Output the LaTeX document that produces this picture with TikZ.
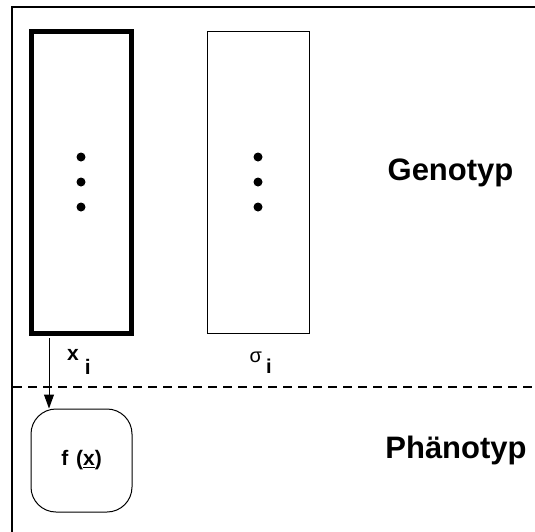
\documentclass[tikz,border=0pt]{standalone}
\usepackage{fontspec}
\setmainfont{Liberation Sans}
\usetikzlibrary{arrows.meta}
\tikzset{
  frame/.style={line width=1.5pt},
  genebox/.style={draw, line width=5pt, minimum width=100.5pt, minimum height=302pt, inner sep=0pt},
  thinbox/.style={draw, line width=1pt, minimum width=102pt, minimum height=302pt, inner sep=0pt},
  dot/.style={circle, fill, inner sep=0pt, minimum size=9pt},
  bigtext/.style={font=\fontsize{31}{33}\selectfont\bfseries, inner sep=0pt},
  labtext/.style={font=\fontsize{21}{22}\selectfont\bfseries, inner sep=0pt},
  fbox/.style={draw, line width=1pt, rounded corners=25pt, minimum width=101pt, minimum height=103pt, inner sep=0pt, font=\fontsize{21}{22}\selectfont\bfseries},
  sep/.style={dashed, line width=1.5pt, dash pattern=on 9pt off 6pt},
  flow/.style={line width=1pt, -{Triangle[length=14pt,width=10pt]}}
}
\begin{document}
\begin{tikzpicture}[x=1pt,y=-1pt]
\useasboundingbox (0,0) rectangle (535,531);
% frame (only top and left visible)
\coordinate (ftl) at (12,7);
\coordinate (ftr) at (536,7);
\coordinate (fbl) at (12,532);
\draw[frame] (ftr) -- (ftl) -- (fbl);
% genotype boxes
\node[genebox] (xbox) at (81.25,182) {};
\node[thinbox] (sbox) at (258,182) {};
\node[dot] (d1) at (81,157) {};
\node[dot] (d2) at (81,182) {};
\node[dot] (d3) at (81,207) {};
\node[dot] (e1) at (258,157) {};
\node[dot] (e2) at (258,182) {};
\node[dot] (e3) at (258,207) {};
% labels
\node[labtext, anchor=base west] (xl) at (67,360) {x\raisebox{-14pt}{\hspace{6pt}i}};
\node[inner sep=0pt, anchor=base west, font=\fontsize{20}{21}\selectfont] (sl) at (249.5,362) {σ\raisebox{-11pt}{\hspace{4pt}\bfseries i}};
\node[bigtext, anchor=base] (geno) at (450.5,180) {Genotyp};
\node[bigtext, anchor=base] (pheno) at (456,458) {Phänotyp};
% separator
\coordinate (s1) at (13,387);
\coordinate (s2) at (536,387);
\draw[sep] (s1) -- (s2);
% phenotype box
\node[fbox] (fx) at (81.5,460.5) {f\hspace{2pt} (\underline{x})};
\coordinate (a1) at (49,338);
\draw[flow] (a1) -- (a1 |- fx.north);
\end{tikzpicture}
\end{document}
